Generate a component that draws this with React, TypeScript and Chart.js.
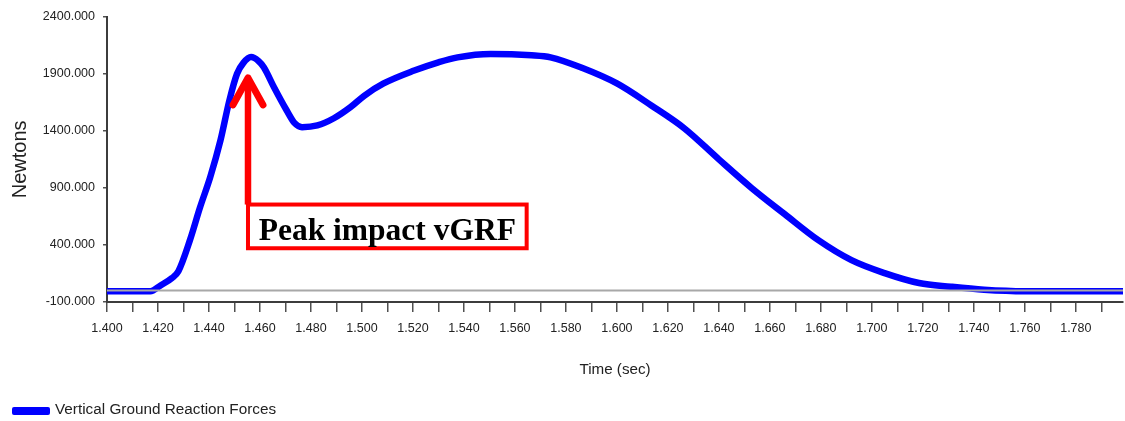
import React, { useEffect, useRef } from "react";
import { Chart, registerables } from "chart.js";

Chart.register(...registerables);

// ---- data ----
const TIME = [
  1.4, 1.417, 1.421, 1.4255, 1.428, 1.4325, 1.4365, 1.4405, 1.4445, 1.448,
  1.451, 1.4535, 1.4565, 1.4595, 1.4615, 1.4655, 1.4705, 1.4735, 1.4765, 1.4825,
  1.489, 1.4955, 1.501, 1.5085, 1.5205, 1.53, 1.5375, 1.5505, 1.5665, 1.574,
  1.5865, 1.6, 1.6135, 1.6265, 1.64, 1.6528, 1.6658, 1.679, 1.692, 1.705,
  1.7185, 1.731, 1.744, 1.76, 1.7985,
];
const VGRF = [
  -5, -5, 45, 110, 170, 440, 730, 995, 1316, 1666,
  1900, 1995, 2046, 2010, 1957, 1782, 1578, 1470, 1432, 1447,
  1510, 1607, 1709, 1815, 1928, 2000, 2044, 2074, 2062, 2044,
  1950, 1815, 1622, 1421, 1150, 900, 670, 442, 267, 153,
  66, 34, 8, -5, -5,
];
const ZERO_TIME = [1.4, 1.7985];
const ZERO_VALUE = [0, 0];

const X_TICKS = [
  1.40, 1.41, 1.42, 1.43, 1.44, 1.45, 1.46, 1.47, 1.48, 1.49,
  1.50, 1.51, 1.52, 1.53, 1.54, 1.55, 1.56, 1.57, 1.58, 1.59,
  1.60, 1.61, 1.62, 1.63, 1.64, 1.65, 1.66, 1.67, 1.68, 1.69,
  1.70, 1.71, 1.72, 1.73, 1.74, 1.75, 1.76, 1.77, 1.78, 1.79,
];
const Y_TICKS = [-100, 400, 900, 1400, 1900, 2400];
const X_MIN = 1.4;
const X_MAX = 1.7985;
const Y_MIN = -100;
const Y_MAX = 2400;

const SERIES_LABEL = "Vertical Ground Reaction Forces";
const X_TITLE = "Time (sec)";
const Y_TITLE = "Newtons";

// annotation (in data units)
const NOTE_TEXT = "Peak impact vGRF";
const NOTE_ARROW_TIME = 1.4553;
const NOTE_ARROW_TIP = 1890;
const NOTE_BOX_TIME = [1.4553, 1.5646];
const NOTE_BOX_VALUE = [371, 754];

const SANS = "'Liberation Sans', Arial, sans-serif";
const SERIF = "'Liberation Serif', 'Times New Roman', serif";

const annotationPlugin = {
  id: "peakNote",
  afterDatasetsDraw(chart: any) {
    const { ctx, scales } = chart;
    const xs = scales.x;
    const ys = scales.y;
    const ax = xs.getPixelForValue(NOTE_ARROW_TIME);
    const tipY = ys.getPixelForValue(NOTE_ARROW_TIP);
    const bx0 = xs.getPixelForValue(NOTE_BOX_TIME[0]);
    const bx1 = xs.getPixelForValue(NOTE_BOX_TIME[1]);
    const by0 = ys.getPixelForValue(NOTE_BOX_VALUE[1]);
    const by1 = ys.getPixelForValue(NOTE_BOX_VALUE[0]);
    ctx.save();
    ctx.fillStyle = "#ffffff";
    ctx.fillRect(bx0, by0, bx1 - bx0, by1 - by0);
    ctx.strokeStyle = "#ff0000";
    ctx.lineWidth = 4;
    ctx.strokeRect(bx0, by0, bx1 - bx0, by1 - by0);
    ctx.lineWidth = 6.5;
    ctx.lineCap = "butt";
    ctx.beginPath();
    ctx.moveTo(ax, by0);
    ctx.lineTo(ax, tipY + 3);
    ctx.stroke();
    ctx.lineWidth = 7;
    ctx.lineCap = "round";
    ctx.lineJoin = "round";
    ctx.beginPath();
    ctx.moveTo(ax - 15, tipY + 30);
    ctx.lineTo(ax, tipY + 3);
    ctx.lineTo(ax + 15, tipY + 30);
    ctx.stroke();
    ctx.fillStyle = "#000000";
    ctx.font = `bold 31.5px ${SERIF}`;
    ctx.textAlign = "center";
    ctx.textBaseline = "alphabetic";
    ctx.fillText(NOTE_TEXT, (bx0 + bx1) / 2, by1 - 8);
    ctx.restore();
  },
  afterDraw(chart: any) {
    const { ctx } = chart;
    ctx.save();
    ctx.fillStyle = "#0000ff";
    ctx.beginPath();
    ctx.roundRect(12, 407, 38, 8, 2);
    ctx.fill();
    ctx.fillStyle = "#222222";
    ctx.font = `15.3px ${SANS}`;
    ctx.textAlign = "left";
    ctx.textBaseline = "middle";
    ctx.fillText(SERIES_LABEL, 55, 410);
    ctx.restore();
  },
};

export default function App() {
  const canvasRef = useRef<HTMLCanvasElement | null>(null);

  useEffect(() => {
    document.body.style.margin = "0";
    const canvas = canvasRef.current;
    if (!canvas) return;
    const chart = new Chart(canvas, {
      type: "line",
      data: {
        datasets: [
          {
            label: "zero",
            data: ZERO_TIME.map((t, i) => ({ x: t, y: ZERO_VALUE[i] })),
            borderColor: "#a8a8a8",
            borderWidth: 2,
            pointRadius: 0,
            order: 0,
          },
          {
            label: SERIES_LABEL,
            data: TIME.map((t, i) => ({ x: t, y: VGRF[i] })),
            borderColor: "#0000ff",
            backgroundColor: "#0000ff",
            borderWidth: 6.5,
            pointRadius: 0,
            cubicInterpolationMode: "monotone",
            borderJoinStyle: "round",
            order: 1,
          },
        ],
      },
      plugins: [annotationPlugin],
      options: {
        responsive: false,
        animation: false,
        devicePixelRatio: 1,
        layout: { padding: { top: 16.7, right: 2, bottom: 0, left: 0 } },
        plugins: {
          legend: { display: false },
          tooltip: { enabled: false },
        },
        scales: {
          x: {
            type: "linear",
            min: X_MIN,
            max: X_MAX,
            afterBuildTicks: (s: any) => {
              s.ticks = X_TICKS.map((v) => ({ value: v }));
            },
            afterFit: (s: any) => {
              s.height = 119;
            },
            ticks: {
              autoSkip: false,
              maxRotation: 0,
              padding: 9,
              color: "#222222",
              font: { family: SANS, size: 12.5 },
              callback: (v: any) => (Math.round(Number(v) * 100) % 2 === 0 ? Number(v).toFixed(3) : ""),
            },
            grid: {
              display: true,
              drawOnChartArea: false,
              drawTicks: true,
              tickLength: 10,
              color: "#505050",
              lineWidth: 1.5,
            },
            border: { display: true, color: "#3c3c3c", width: 2 },
            title: {
              display: true,
              text: X_TITLE,
              color: "#222222",
              font: { family: SANS, size: 15.2 },
              padding: { top: 0, bottom: 42 },
            },
          },
          y: {
            type: "linear",
            min: Y_MIN,
            max: Y_MAX,
            afterBuildTicks: (s: any) => {
              s.ticks = Y_TICKS.map((v) => ({ value: v }));
            },
            afterFit: (s: any) => {
              s.width = 107;
            },
            ticks: {
              padding: 8,
              color: "#222222",
              font: { family: SANS, size: 12.5 },
              callback: (v: any) => Number(v).toFixed(3),
            },
            grid: {
              display: true,
              drawOnChartArea: false,
              drawTicks: true,
              tickLength: 4,
              color: "#505050",
              lineWidth: 1.5,
            },
            border: { display: true, color: "#3c3c3c", width: 2 },
            title: {
              display: true,
              text: Y_TITLE,
              color: "#222222",
              font: { family: SANS, size: 20 },
              padding: { top: 8, bottom: 0 },
            },
          },
        },
      },
    } as any);
    return () => chart.destroy();
  }, []);

  return (
    <div style={{ width: 1125, height: 421, background: "#ffffff" }}>
      <canvas ref={canvasRef} width={1125} height={421} style={{ display: "block" }} />
    </div>
  );
}
